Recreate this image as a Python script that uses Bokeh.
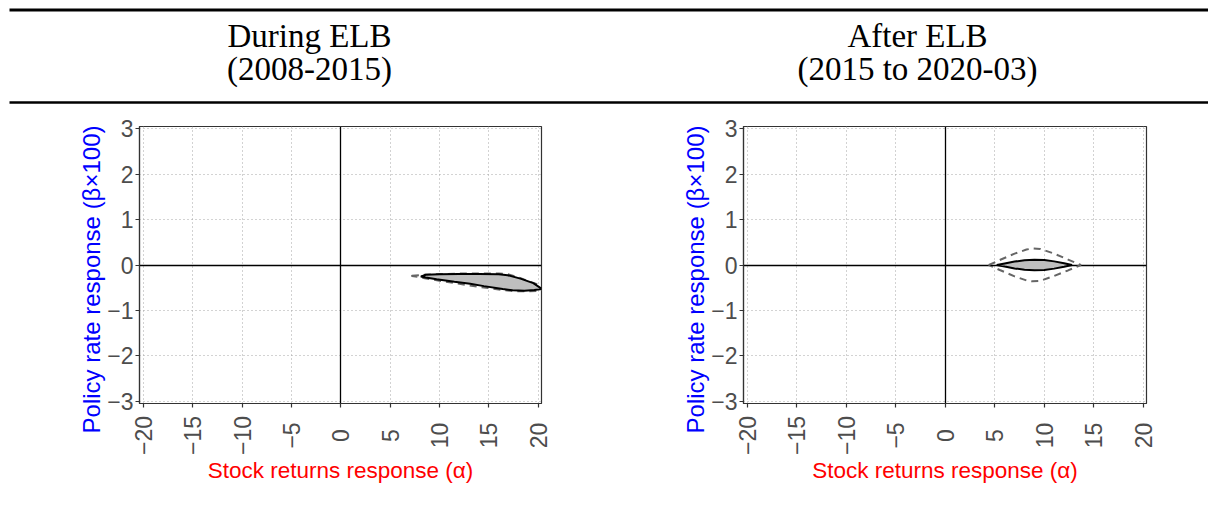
import math
from bokeh.plotting import figure
from bokeh.layouts import column, row
from bokeh.models import Range1d, FixedTicker
from bokeh.embed import file_html
from bokeh.resources import INLINE
from bokeh.core.properties import value

# ---------------- data ----------------
titles_top = ["During ELB", "After ELB"]
titles_bottom = ["(2008-2015)", "(2015 to 2020-03)"]

x_label = "Stock returns response (\u03b1)"
y_label = "Policy rate response (\u03b2\u00d7100)"

x_ticks = [-20, -15, -10, -5, 0, 5, 10, 15, 20]
x_tick_labels = ["\u221220", "\u221215", "\u221210", "\u22125", "0", "5", "10", "15", "20"]
y_ticks = [-3, -2, -1, 0, 1, 2, 3]
y_tick_labels = ["\u22123", "\u22122", "\u22121", "0", "1", "2", "3"]

# During ELB: inner (solid, filled) set
left_inner_alpha = [8.1, 8.6, 10, 12, 14, 16, 16.9, 18.2, 19.5, 20.4,
                    19.6, 18.6, 17.4, 16.4, 14.5, 13.1, 11.5, 9.7, 8.6]
left_inner_beta = [-0.255, -0.215, -0.205, -0.20, -0.20, -0.205, -0.225, -0.30, -0.40, -0.53,
                   -0.55, -0.565, -0.555, -0.53, -0.465, -0.415, -0.37, -0.315, -0.275]
# During ELB: outer (dashed) set
left_outer_alpha = [7.2, 8.5, 10, 12, 14, 16, 16.8, 18, 19.2, 20.5,
                    20.5, 19.8, 18.8, 17.6, 16, 14, 12, 10, 8.5, 7.2]
left_outer_beta = [-0.235, -0.215, -0.20, -0.19, -0.185, -0.185, -0.195, -0.275, -0.37, -0.47,
                   -0.55, -0.57, -0.58, -0.58, -0.54, -0.48, -0.415, -0.345, -0.29, -0.24]

# After ELB: inner (solid, filled) set
right_inner_alpha = [5.2, 6, 7, 8, 9, 10, 11, 12, 12.8, 12, 11, 10, 9, 8, 7, 6]
right_inner_beta = [0.0, 0.035, 0.075, 0.105, 0.118, 0.11, 0.08, 0.04, 0.0,
                    -0.04, -0.08, -0.11, -0.118, -0.105, -0.075, -0.035]
# After ELB: outer (dashed) set
right_outer_alpha = [4.4, 5.5, 7, 8.2, 8.8, 9.6, 11, 12.4, 13.7, 12.4, 11, 9.6, 8.8, 8.2, 7, 5.5, 4.4]
right_outer_beta = [0.0, 0.11, 0.25, 0.34, 0.365, 0.355, 0.25, 0.12, 0.0,
                    -0.12, -0.24, -0.35, -0.36, -0.34, -0.25, -0.11, 0.0]

# ---------------- styling / layout constants ----------------
SANS = "Liberation Sans"
SERIF = "Liberation Serif"
TICK_COLOR = "#4D4D4D"
FRAME_COLOR = "#333333"

XMIN, XMAX = -20.4, 20.33
YMIN, YMAX = -3.05, 3.05
HDR_W, HDR_H = 1208, 112
PANEL_W, PANEL_H = 604, 398
YTITLE_W = 106          # strip holding the vertical axis title
YTICK_W = 28            # strip holding the y tick labels
TOP_B = 14              # space above the frame
FRAME_H = 277
MAIN_B = 12             # space below the frame (tick marks + room for the lowest y label)
MAIN_H = TOP_B + FRAME_H + MAIN_B
STRIP_H = PANEL_H - MAIN_H
PX_Y = FRAME_H / (YMAX - YMIN)


def no_align(f):
    try:
        f.frame_align = False
    except Exception:
        pass
    return f


def blank(width, height, xr, yr):
    f = figure(width=width, height=height, x_range=xr, y_range=yr,
               output_backend="svg", toolbar_location=None, min_border=0,
               x_axis_location=None, y_axis_location=None, outline_line_color=None)
    f.grid.visible = False
    return no_align(f)


# ---------------- header ----------------
hdr = blank(HDR_W, HDR_H, Range1d(0, HDR_W), Range1d(HDR_H, 0))
hdr.segment(x0=[9], y0=[9.5], x1=[HDR_W], y1=[9.5], line_color="black", line_width=3)
hdr.segment(x0=[9], y0=[102], x1=[HDR_W], y1=[102], line_color="black", line_width=2.5)
centers = [309, 917]
hdr.text(x=centers, y=[35, 35], text=titles_top, text_font=value(SERIF),
         text_font_size="33px", text_align="center", text_baseline="middle", text_color="black")
hdr.text(x=centers, y=[68, 68], text=titles_bottom, text_font=value(SERIF),
         text_font_size="33px", text_align="center", text_baseline="middle", text_color="black")


def make_panel(in_a, in_b, out_a, out_b, ml, mr):
    main_w = PANEL_W - YTITLE_W - YTICK_W
    frame_w = main_w - ml - mr
    px_x = frame_w / (XMAX - XMIN)

    # ---- main plot (ticks only; labels drawn in side strips on the same scales) ----
    p = figure(width=main_w, height=MAIN_H, x_range=Range1d(XMIN, XMAX), y_range=Range1d(YMIN, YMAX),
               output_backend="svg", toolbar_location=None,
               min_border_left=ml, min_border_right=mr, min_border_top=TOP_B,
               min_border_bottom=MAIN_B)
    no_align(p)
    p.outline_line_color = FRAME_COLOR
    p.outline_line_width = 1.2
    p.xaxis.ticker = FixedTicker(ticks=x_ticks)
    p.yaxis.ticker = FixedTicker(ticks=y_ticks)
    for ax in (p.xaxis, p.yaxis):
        ax.major_label_text_color = None
        ax.major_label_standoff = 0
        ax.major_tick_in = 0
        ax.major_tick_out = 4
        ax.major_tick_line_color = FRAME_COLOR
        ax.major_tick_line_width = 1.2
        ax.minor_tick_line_color = None
        ax.axis_line_color = FRAME_COLOR
        ax.axis_line_width = 1.2
    p.grid.grid_line_color = "#a6a6a6"
    p.grid.grid_line_dash = "1 3"
    p.grid.grid_line_width = 1.1

    p.hspan(y=[0], line_color="black", line_width=1.3)
    p.vspan(x=[0], line_color="black", line_width=1.3)
    p.patch(out_a, out_b, fill_color=None, line_color="#666666", line_width=2, line_dash="7 5")
    p.patch(in_a, in_b, fill_color="#bebebe", line_color="black", line_width=2)

    # ---- y tick label strip (same y scale as the plot) ----
    yt = blank(YTICK_W, MAIN_H, Range1d(0, YTICK_W),
               Range1d(YMIN - MAIN_B / PX_Y, YMAX + TOP_B / PX_Y))
    yt.text(x=[YTICK_W + ml - 6] * len(y_ticks), y=y_ticks, text=y_tick_labels,
            text_align="right", text_baseline="middle", text_font=value(SANS),
            text_font_size="23px", text_color=TICK_COLOR)

    # ---- strip under the plot: rotated tick labels + x title (same x scale) ----
    left_off = YTICK_W + ml
    s = blank(YTICK_W + main_w, STRIP_H,
              Range1d(XMIN - left_off / px_x, XMAX + mr / px_x), Range1d(0, STRIP_H))
    s.text(x=x_ticks, y=[STRIP_H - 20] * len(x_ticks), text=x_tick_labels, angle=math.pi / 2,
           text_align="center", text_baseline="middle", text_font=value(SANS),
           text_font_size="23px", text_color=TICK_COLOR)
    s.text(x=[(XMIN + XMAX) / 2], y=[STRIP_H - 55], text=[x_label], text_align="center",
           text_baseline="middle", text_font=value(SANS),
           text_font_size="22.5px", text_color="#FF0000")

    # ---- strip left of everything: vertical y title (same y scale) ----
    below = PANEL_H - TOP_B - FRAME_H
    yl = blank(YTITLE_W, PANEL_H, Range1d(0, YTITLE_W),
               Range1d(YMIN - below / PX_Y, YMAX + TOP_B / PX_Y))
    yl.text(x=[91], y=[(YMIN + YMAX) / 2 - 14.5 / PX_Y], text=[y_label], angle=math.pi / 2,
            text_align="center", text_baseline="middle", text_font=value(SANS),
            text_font_size="24px", text_color="#0000FF")

    return row(yl, column(row(yt, p, spacing=0), s, spacing=0), spacing=0)


left = make_panel(left_inner_alpha, left_inner_beta, left_outer_alpha, left_outer_beta, 5, 63)
right = make_panel(right_inner_alpha, right_inner_beta, right_outer_alpha, right_outer_beta, 5, 62)

layout = column(hdr, row(left, right, spacing=0), spacing=0)
open("out.html", "w").write(file_html(layout, INLINE))
